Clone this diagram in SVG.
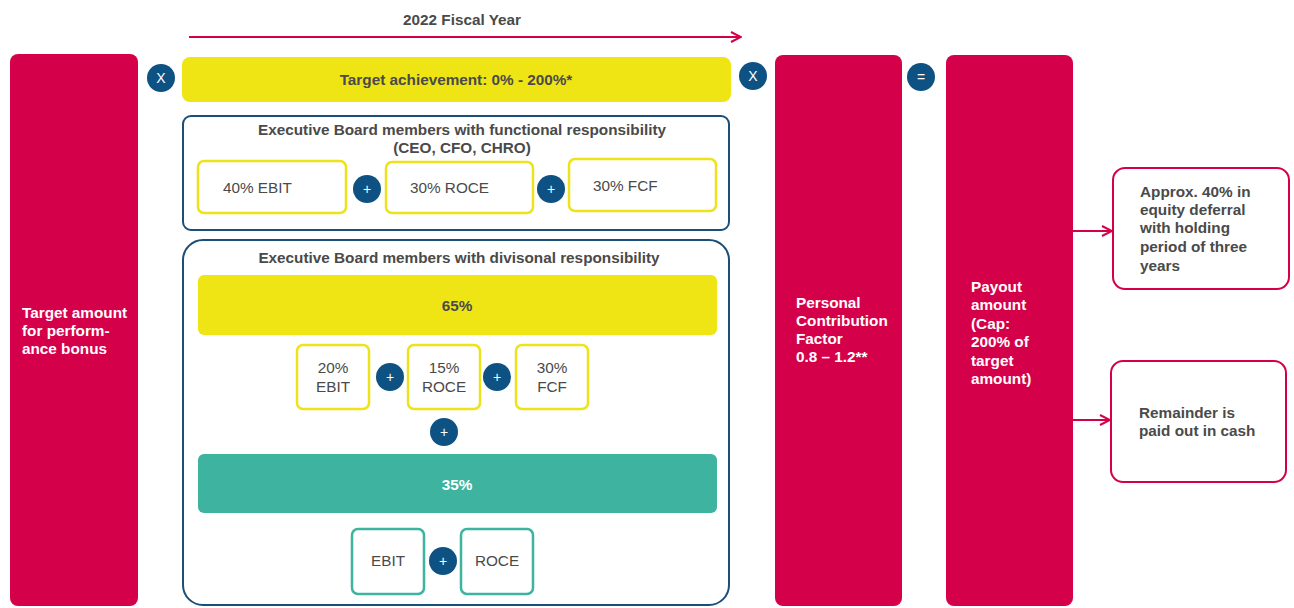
<svg xmlns="http://www.w3.org/2000/svg" width="1294" height="608" viewBox="0 0 1294 608">
<defs>
<style>
text{font-family:"Liberation Sans",Arial,sans-serif;font-size:15.3px;fill:#4a4a4a}
.b{font-weight:bold}
.w{fill:#fff;font-weight:bold}
.c{text-anchor:middle}
.red{fill:#d5004a}
.yel{fill:#f0e514}
.op{fill:#0d5283}
.opt{fill:#fff;font-size:14px;text-anchor:middle}
.yb{fill:#fff;stroke:#ede31a;stroke-width:2.5}
.tb{fill:#fff;stroke:#3eb4a0;stroke-width:2.5}
.frame{fill:#fff;stroke:#1a4f7a;stroke-width:2}
.out{fill:#fff;stroke:#d5004a;stroke-width:2}
.con{stroke:#d5004a;stroke-width:2;fill:none}
</style>
<marker id="ah" viewBox="0 0 12 12" refX="11" refY="6" markerWidth="12" markerHeight="12" markerUnits="userSpaceOnUse" orient="auto">
<path d="M1,1 L11,6 L1,11" fill="none" stroke="#d5004a" stroke-width="2"/>
</marker>
</defs>
<rect width="1294" height="608" fill="#fff"/>

<g id="connectors">
<line class="con" x1="189" y1="37" x2="741" y2="37" marker-end="url(#ah)"/>
<line class="con" x1="1073" y1="231" x2="1112" y2="231" marker-end="url(#ah)"/>
<line class="con" x1="1073" y1="420" x2="1110" y2="420" marker-end="url(#ah)"/>
</g>

<g id="fiscal-year"><text class="b c" x="462" y="25">2022 Fiscal Year</text></g>

<g id="target-amount">
<rect class="red" x="10" y="54" width="128" height="552" rx="8"/>
<text class="w" x="22" y="318">Target amount</text>
<text class="w" x="22" y="336">for perform-</text>
<text class="w" x="22" y="354">ance bonus</text>
</g>

<g id="op-x1"><circle class="op" cx="161" cy="78" r="14"/><text class="opt" x="161" y="83">X</text></g>

<g id="target-achievement">
<rect class="yel" x="182" y="57" width="549" height="45" rx="8"/>
<text class="b c" x="456" y="85">Target achievement: 0% - 200%*</text>
</g>

<g id="functional">
<rect class="frame" x="183" y="116" width="546" height="114" rx="8"/>
<text class="b c" x="462" y="135">Executive Board members with functional responsibility</text>
<text class="b c" x="462" y="153">(CEO, CFO, CHRO)</text>
<rect class="yb" x="198" y="161" width="148" height="52" rx="6"/>
<text x="223" y="193">40% EBIT</text>
<circle class="op" cx="367" cy="189" r="14"/><text class="opt" x="367" y="194">+</text>
<rect class="yb" x="386" y="162" width="147" height="51" rx="6"/>
<text x="410" y="193">30% ROCE</text>
<circle class="op" cx="551" cy="189" r="14"/><text class="opt" x="551" y="194">+</text>
<rect class="yb" x="569" y="159" width="147" height="52" rx="6"/>
<text x="593" y="191">30% FCF</text>
</g>

<g id="divisional">
<rect class="frame" x="183" y="240" width="546" height="365" rx="20"/>
<text class="b c" x="459" y="263">Executive Board members with divisonal responsibility</text>
<rect class="yel" x="198" y="275" width="519" height="60" rx="6"/>
<text class="b c" x="457" y="311">65%</text>
<rect class="yb" x="297" y="345" width="72" height="64" rx="6"/>
<text class="c" x="333" y="373">20%</text><text class="c" x="333" y="392">EBIT</text>
<circle class="op" cx="390" cy="377" r="14"/><text class="opt" x="390" y="382">+</text>
<rect class="yb" x="408" y="345" width="72" height="64" rx="6"/>
<text class="c" x="444" y="373">15%</text><text class="c" x="444" y="392">ROCE</text>
<circle class="op" cx="497" cy="377" r="14"/><text class="opt" x="497" y="382">+</text>
<rect class="yb" x="516" y="345" width="72" height="64" rx="6"/>
<text class="c" x="552" y="373">30%</text><text class="c" x="552" y="392">FCF</text>
<circle class="op" cx="444" cy="432" r="14"/><text class="opt" x="444" y="437">+</text>
<rect fill="#3eb4a0" x="198" y="454" width="519" height="59" rx="6"/>
<text class="w c" x="457" y="490">35%</text>
<rect class="tb" x="352" y="529" width="72" height="65" rx="6"/>
<text class="c" x="388" y="566">EBIT</text>
<circle class="op" cx="443" cy="561" r="14"/><text class="opt" x="443" y="566">+</text>
<rect class="tb" x="461" y="529" width="72" height="65" rx="6"/>
<text class="c" x="497" y="566">ROCE</text>
</g>

<g id="op-x2"><circle class="op" cx="753" cy="76" r="14"/><text class="opt" x="753" y="81">X</text></g>

<g id="personal-factor">
<rect class="red" x="775" y="55" width="127" height="551" rx="8"/>
<text class="w" x="796" y="308">Personal</text>
<text class="w" x="796" y="326">Contribution</text>
<text class="w" x="796" y="344">Factor</text>
<text class="w" x="796" y="362">0.8 – 1.2**</text>
</g>

<g id="op-eq"><circle class="op" cx="921" cy="77" r="14"/><text class="opt" x="921" y="82">=</text></g>

<g id="payout">
<rect class="red" x="946" y="55" width="127" height="551" rx="8"/>
<text class="w" x="971" y="292">Payout</text>
<text class="w" x="971" y="310">amount</text>
<text class="w" x="971" y="329">(Cap:</text>
<text class="w" x="971" y="347">200% of</text>
<text class="w" x="971" y="366">target</text>
<text class="w" x="971" y="384">amount)</text>
</g>

<g id="equity-deferral">
<rect class="out" x="1113" y="168" width="176" height="121" rx="12"/>
<text class="b" x="1140" y="197">Approx. 40% in</text>
<text class="b" x="1140" y="215">equity deferral</text>
<text class="b" x="1140" y="233">with holding</text>
<text class="b" x="1140" y="252">period of three</text>
<text class="b" x="1140" y="271">years</text>
</g>

<g id="cash">
<rect class="out" x="1111" y="361" width="175" height="121" rx="12"/>
<text class="b" x="1139" y="418">Remainder is</text>
<text class="b" x="1139" y="436">paid out in cash</text>
</g>
</svg>
